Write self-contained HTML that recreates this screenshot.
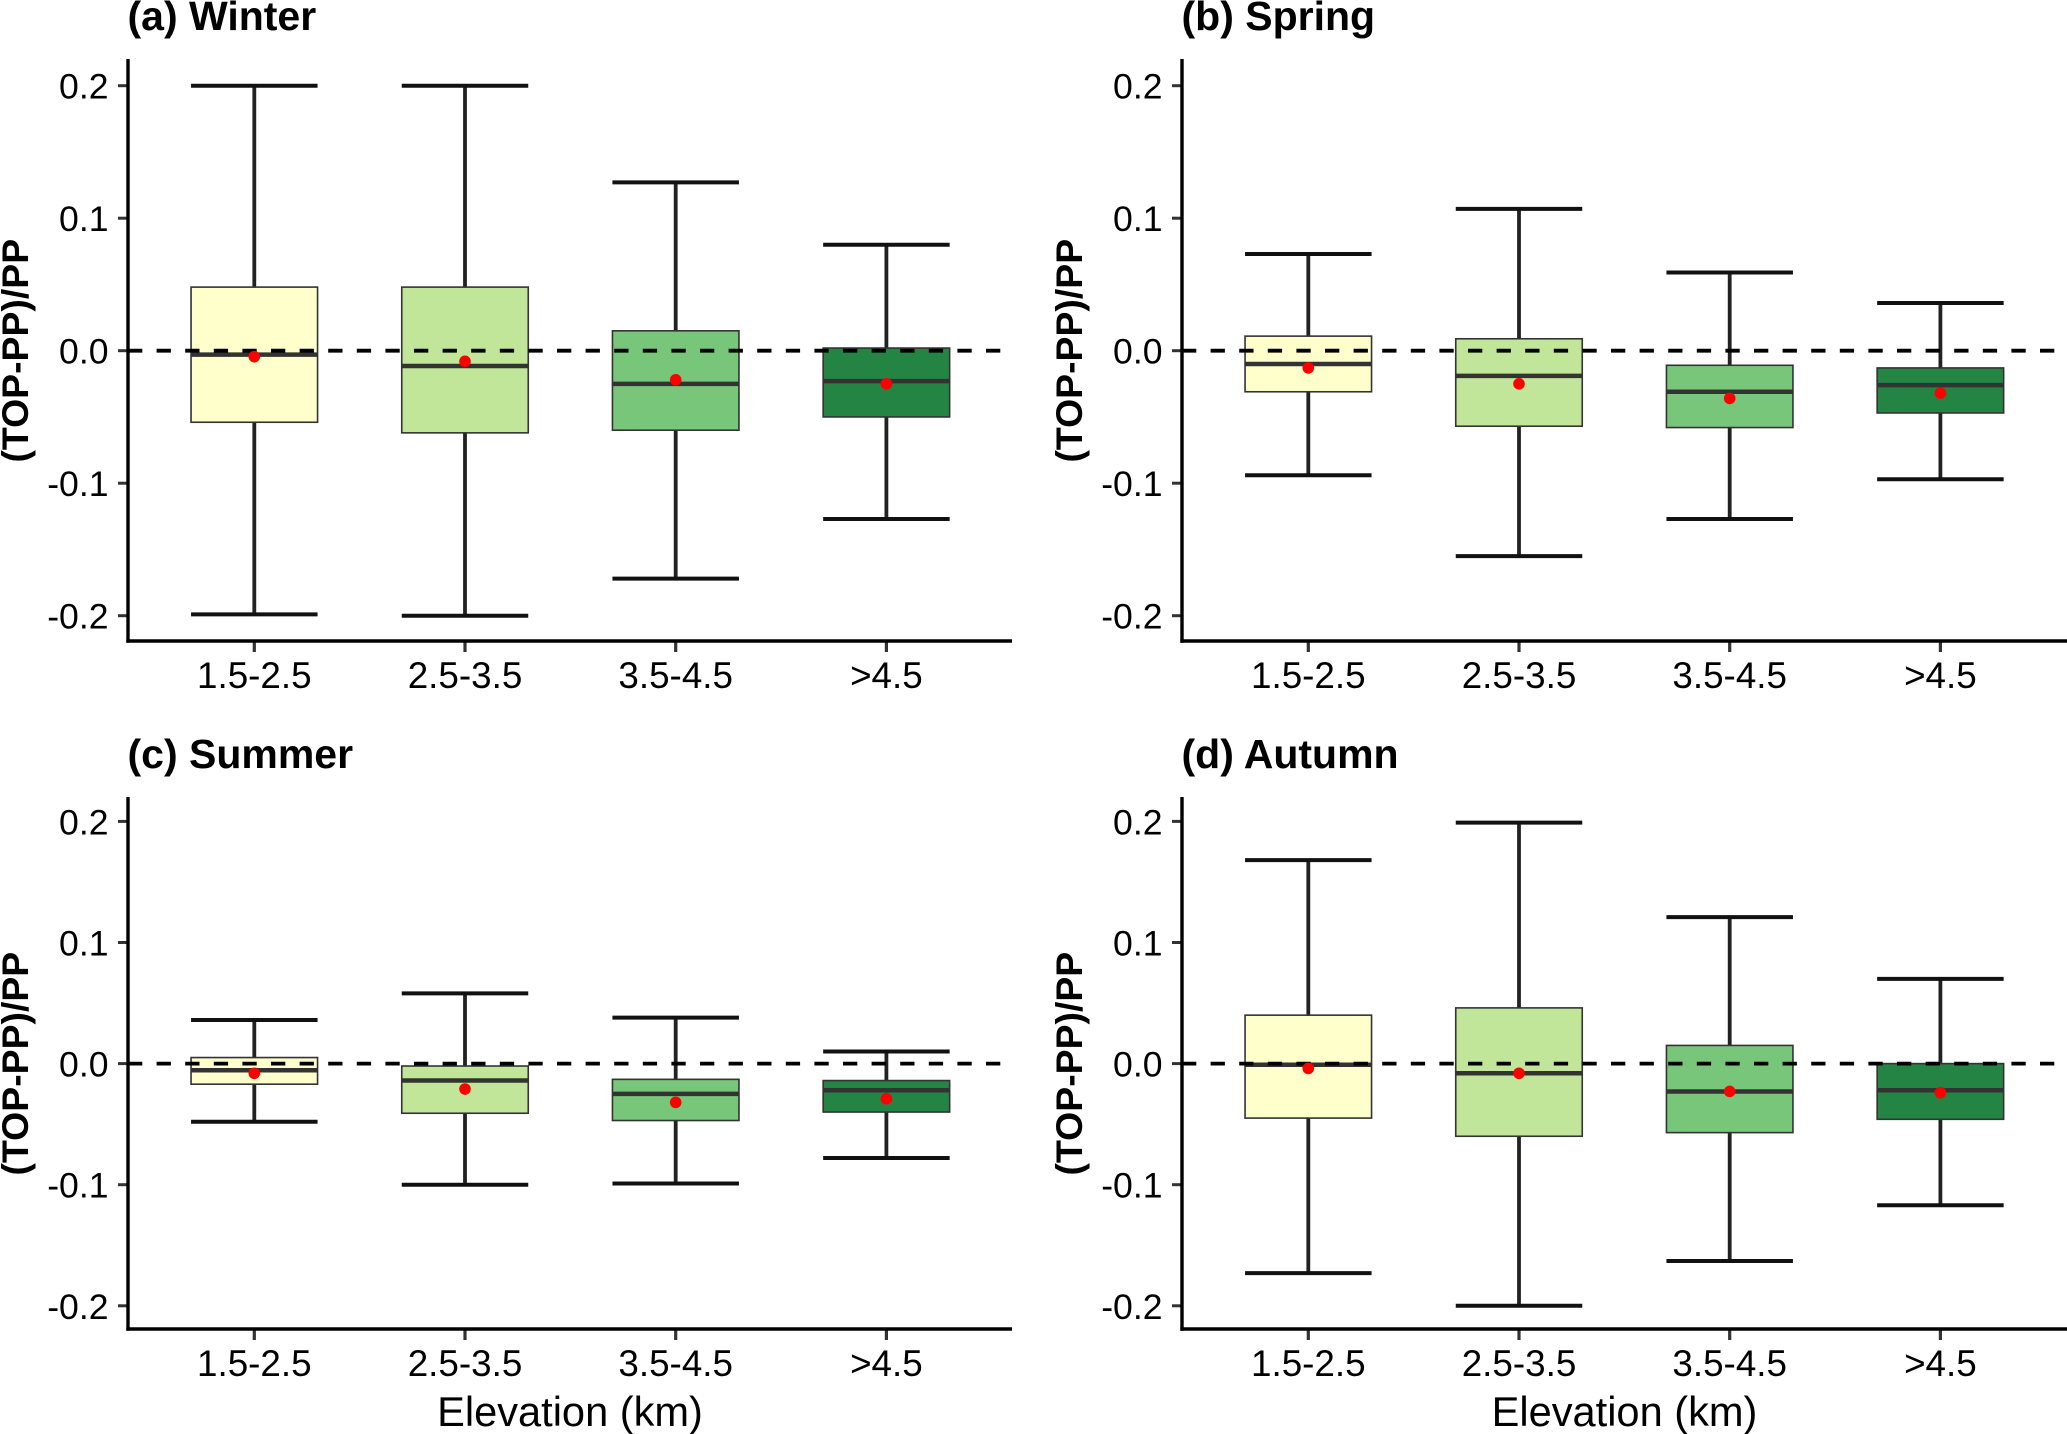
<!DOCTYPE html>
<html>
<head>
<meta charset="utf-8">
<title>(TOP-PP)/PP by elevation and season</title>
<style>
html,body{margin:0;padding:0;background:#fff;width:2067px;height:1434px;overflow:hidden}
svg{display:block}
text{font-family:"Liberation Sans",Arial,sans-serif;fill:#000}
</style>
</head>
<body>
<svg id="chart" xmlns="http://www.w3.org/2000/svg" width="2067" height="1434" viewBox="0 0 2067 1434"></svg>
<script>
const categories = ["1.5-2.5", "2.5-3.5", "3.5-4.5", ">4.5"];
const yTickValues = [0.2, 0.1, 0.0, -0.1, -0.2];
const yTickLabels = ["0.2", "0.1", "0.0", "-0.1", "-0.2"];
const boxColors = ["#ffffcc", "#c2e699", "#78c679", "#238443"];

const winterHigh = [0.2, 0.2, 0.127, 0.08];
const winterQ3 = [0.048, 0.048, 0.015, 0.002];
const winterMedian = [-0.003, -0.0115, -0.025, -0.023];
const winterQ1 = [-0.054, -0.062, -0.06, -0.05];
const winterLow = [-0.199, -0.2, -0.172, -0.127];
const winterMean = [-0.0045, -0.008, -0.022, -0.025];

const springHigh = [0.073, 0.107, 0.059, 0.036];
const springQ3 = [0.011, 0.009, -0.011, -0.013];
const springMedian = [-0.01, -0.019, -0.031, -0.026];
const springQ1 = [-0.031, -0.057, -0.058, -0.047];
const springLow = [-0.094, -0.155, -0.127, -0.097];
const springMean = [-0.013, -0.025, -0.036, -0.032];

const summerHigh = [0.036, 0.058, 0.038, 0.01];
const summerQ3 = [0.005, -0.002, -0.013, -0.014];
const summerMedian = [-0.0055, -0.014, -0.025, -0.022];
const summerQ1 = [-0.017, -0.041, -0.047, -0.04];
const summerLow = [-0.048, -0.1, -0.099, -0.078];
const summerMean = [-0.008, -0.021, -0.032, -0.029];

const autumnHigh = [0.168, 0.199, 0.121, 0.07];
const autumnQ3 = [0.04, 0.046, 0.015, 0];
const autumnMedian = [-0.001, -0.008, -0.023, -0.022];
const autumnQ1 = [-0.045, -0.06, -0.057, -0.046];
const autumnLow = [-0.173, -0.2, -0.163, -0.117];
const autumnMean = [-0.004, -0.008, -0.023, -0.024];

const svg = document.getElementById("chart");
const NS = "http://www.w3.org/2000/svg";

function make(parent, tag, attrs, content) {
  const el = document.createElementNS(NS, tag);
  for (const k in attrs) el.setAttribute(k, attrs[k]);
  if (content !== undefined) el.textContent = content;
  parent.appendChild(el);
  return el;
}

function drawPanel(p) {
  const scaleY = v => p.zeroY - v * p.pxPerUnit;
  const scaleX = i => p.left + 126.3 + i * 210.7;
  const boxW = 126.5;

  const g = make(svg, "g", {});
  
  

  const title = make(g, "text", {x: p.left - 0.5, y: p.titleY, "font-size": 41, "font-weight": "bold"}, p.title);
  
  

  const yTitle = make(g, "text", {
    transform: "translate(" + (p.left - 100) + "," + p.zeroY + ") rotate(-90)",
    "text-anchor": "middle", "font-size": 37.4, "font-weight": "bold"
  }, "(TOP-PP)/PP");
  
  

  if (p.showXTitle) {
    const xTitle = make(g, "text", {
      x: (p.left + p.right) / 2, y: p.bottom + 97, "text-anchor": "middle", "font-size": 41.6
    }, "Elevation (km)");
    
    
  }

  yTickValues.forEach((v, i) => {
    const y = scaleY(v);
    const tick = make(g, "line", {x1: p.left - 10, x2: p.left, y1: y, y2: y, stroke: "#333", "stroke-width": 3});
    
    
    const label = make(g, "text", {x: p.left - 19.5, y: y + 13, "text-anchor": "end", "font-size": 35.6}, yTickLabels[i]);
    
    
  });

  categories.forEach((c, i) => {
    const x = scaleX(i);
    const fill = boxColors[i];

    const whisker = make(g, "line", {x1: x, x2: x, y1: scaleY(p.high[i]), y2: scaleY(p.low[i]), stroke: "#222", "stroke-width": 3.8});
    
    

    const capHigh = make(g, "line", {x1: x - boxW / 2, x2: x + boxW / 2, y1: scaleY(p.high[i]), y2: scaleY(p.high[i]), stroke: "#111", "stroke-width": 4});
    
    

    const capLow = make(g, "line", {x1: x - boxW / 2, x2: x + boxW / 2, y1: scaleY(p.low[i]), y2: scaleY(p.low[i]), stroke: "#111", "stroke-width": 4});
    
    

    const box = make(g, "rect", {
      x: x - boxW / 2, y: scaleY(p.q3[i]), width: boxW,
      height: scaleY(p.q1[i]) - scaleY(p.q3[i]),
      fill: fill, stroke: "#333", "stroke-width": 1.6
    });
    
    

    const median = make(g, "line", {x1: x - boxW / 2, x2: x + boxW / 2, y1: scaleY(p.median[i]), y2: scaleY(p.median[i]), stroke: "#333", "stroke-width": 4.5});
    
    

    const tick = make(g, "line", {x1: x, x2: x, y1: p.bottom, y2: p.bottom + 11, stroke: "#333", "stroke-width": 3.2});
    
    

    const label = make(g, "text", {x: x, y: p.bottom + 47, "text-anchor": "middle", "font-size": 36.8}, c);
    
    
  });

  const zero = make(g, "line", {x1: p.left, x2: p.right, y1: scaleY(0), y2: scaleY(0), stroke: "#000", "stroke-width": 3.8, "stroke-dasharray": "14.3 14.3"});
  
  

  categories.forEach((c, i) => {
    const dot = make(g, "circle", {cx: scaleX(i), cy: scaleY(p.mean[i]), r: 5.8, fill: "#ff0000"});
    
    
  });

  const yAxis = make(g, "line", {x1: p.left, x2: p.left, y1: p.top, y2: p.bottom + 1.7, stroke: "#000", "stroke-width": 3.4});
  
  

  const xAxis = make(g, "line", {x1: p.left - 1.7, x2: p.right, y1: p.bottom, y2: p.bottom, stroke: "#000", "stroke-width": 3.4});
  
  
}

drawPanel({key: "winter", title: "(a) Winter", left: 128, right: 1012, top: 59, bottom: 641, zeroY: 350.7, pxPerUnit: 1325, titleY: 30, showXTitle: false,
  high: winterHigh, q3: winterQ3, median: winterMedian, q1: winterQ1, low: winterLow, mean: winterMean});
drawPanel({key: "spring", title: "(b) Spring", left: 1182, right: 2067, top: 59, bottom: 641, zeroY: 350.7, pxPerUnit: 1325, titleY: 30, showXTitle: false,
  high: springHigh, q3: springQ3, median: springMedian, q1: springQ1, low: springLow, mean: springMean});
drawPanel({key: "summer", title: "(c) Summer", left: 128, right: 1012, top: 797, bottom: 1329, zeroY: 1063.6, pxPerUnit: 1211, titleY: 768, showXTitle: true,
  high: summerHigh, q3: summerQ3, median: summerMedian, q1: summerQ1, low: summerLow, mean: summerMean});
drawPanel({key: "autumn", title: "(d) Autumn", left: 1182, right: 2067, top: 797, bottom: 1329, zeroY: 1063.6, pxPerUnit: 1211, titleY: 768, showXTitle: true,
  high: autumnHigh, q3: autumnQ3, median: autumnMedian, q1: autumnQ1, low: autumnLow, mean: autumnMean});
</script>
</body>
</html>
